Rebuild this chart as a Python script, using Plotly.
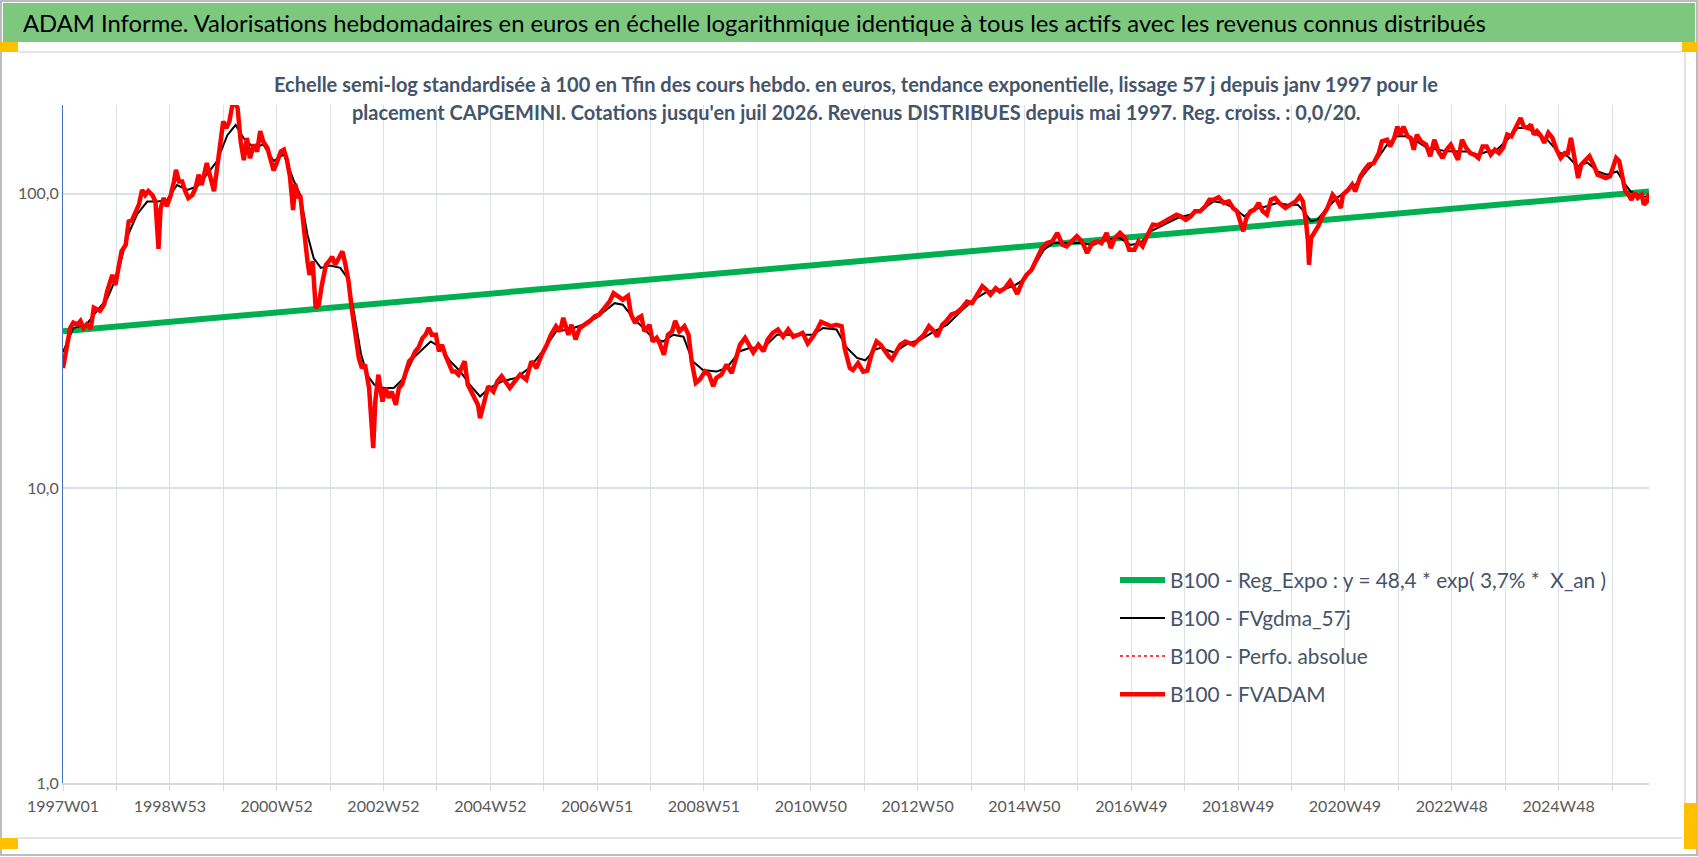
"""CAPGEMINI : valorisations hebdo en base 100, echelle semi-log (ADAM Informe)."""
import plotly.graph_objects as go

W, H = 1698, 857
ML, MR, MT, MB = 63, 49, 105, 74

# semaines depuis 1997W01 / valeurs base 100
red_weeks = [
    0, 4, 7, 10, 14, 17, 20, 23, 27, 30, 33, 36, 40, 43, 48, 51, 54, 57, 61, 64,
    67, 70, 74, 77, 80, 83, 87, 90, 93, 95, 98, 101, 105, 108, 110, 113, 116, 119, 122, 126,
    129, 132, 135, 140, 144, 147, 150, 153, 156, 159, 162, 166, 170, 173, 176, 179, 182, 186, 189, 192,
    195, 199, 202, 205, 208, 212, 215, 218, 221, 224, 226, 229, 231, 234, 238, 240, 243, 246, 249, 252,
    256, 259, 262, 265, 269, 272, 275, 278, 281, 285, 288, 291, 294, 298, 300, 302, 304, 307, 311, 314,
    317, 320, 324, 327, 330, 333, 337, 340, 343, 346, 350, 353, 356, 359, 363, 366, 369, 372, 376, 379,
    382, 385, 391, 394, 399, 404, 406, 410, 414, 419, 423, 427, 430, 435, 440, 445, 451, 456, 461, 466,
    471, 475, 480, 484, 487, 492, 495, 499, 503, 508, 513, 518, 522, 527, 532, 536, 540, 545, 550, 553,
    557, 560, 563, 566, 571, 574, 578, 581, 585, 589, 593, 596, 600, 605, 609, 612, 616, 620, 625, 629,
    633, 636, 641, 646, 651, 655, 659, 664, 667, 672, 677, 682, 686, 691, 696, 701, 706, 711, 716, 720,
    725, 730, 735, 738, 743, 748, 753, 758, 761, 766, 769, 774, 779, 783, 787, 792, 796, 800, 804, 807,
    811, 815, 820, 824, 828, 833, 838, 843, 848, 851, 856, 860, 865, 870, 875, 880, 885, 890, 895, 899,
    903, 908, 912, 917, 922, 926, 929, 934, 938, 943, 948, 953, 958, 963, 968, 973, 977, 982, 987, 992,
    997, 1002, 1007, 1011, 1016, 1020, 1024, 1029, 1034, 1038, 1043, 1047, 1051, 1056, 1061, 1066, 1070, 1075, 1080, 1084,
    1088, 1093, 1098, 1102, 1107, 1112, 1116, 1120, 1125, 1130, 1135, 1139, 1143, 1146, 1149, 1152, 1156, 1160, 1164, 1168,
    1172, 1176, 1180, 1184, 1190, 1195, 1200, 1204, 1207, 1210, 1212, 1213, 1215, 1218, 1222, 1226, 1231, 1236, 1240, 1244,
    1246, 1251, 1255, 1258, 1263, 1267, 1271, 1276, 1281, 1284, 1289, 1292, 1296, 1299, 1302, 1305, 1309, 1312, 1315, 1318,
    1322, 1327, 1331, 1335, 1339, 1343, 1347, 1351, 1355, 1358, 1362, 1366, 1370, 1374, 1378, 1382, 1386, 1390, 1394, 1398,
    1402, 1406, 1410, 1414, 1419, 1422, 1426, 1429, 1432, 1435, 1439, 1442, 1446, 1450, 1454, 1458, 1462, 1465, 1468, 1472,
    1475, 1478, 1481, 1486, 1490, 1494, 1498, 1502, 1506, 1509, 1512, 1515, 1518, 1521, 1524, 1527, 1530, 1533, 1537, 1539,
    1542, 1544,
]
red_values = [
    25.6, 30, 35, 36.5, 36, 37, 35, 36, 34.8, 41, 40.5, 40, 42, 46.6, 53, 49, 56, 63.7, 67, 80.5,
    81, 85, 92, 103, 99, 102, 99, 94, 65, 89, 96.7, 90.6, 99, 110, 120.5, 110, 110, 102, 96.7, 99,
    104.5, 116, 107, 127, 113, 102, 122, 143, 176, 167, 176, 210, 195, 150, 130, 154.6, 132, 147, 139, 163,
    150, 143, 129, 120, 127, 139, 141, 130, 114, 88, 108, 96.7, 99, 76.5, 59, 53, 59, 41, 42, 49,
    57.4, 59, 61, 57.4, 60.5, 63.7, 57.4, 50.4, 41, 33.2, 27.7, 25.6, 26.3, 21.9, 16, 13.7, 19.7, 24.3, 19.7, 21.9,
    20.3, 21.3, 19.2, 21.9, 22.5, 24.3, 27, 27.7, 29.2, 30, 32.4, 33.2, 35, 33.2, 33.2, 29.2, 30.7, 28.4, 26.3, 24.9,
    24.9, 24.3, 27, 22.5, 20.8, 19.2, 17.3, 19.7, 22.2, 21.3, 23.1, 24, 23.1, 21.9, 23.1, 24.3, 23.4, 27, 25.6, 28.4,
    30.7, 33.2, 35.5, 34.1, 37.9, 33.2, 35.9, 32, 35, 35.9, 37, 38.4, 38.9, 40.9, 43, 46, 45, 43.7, 45, 38.9,
    36.4, 37.9, 38.4, 34.1, 35.9, 31.5, 32.4, 31, 28.4, 33.2, 34.1, 37, 34.1, 35.5, 33.2, 27, 22.8, 23.4, 24.9, 24.3,
    22.2, 23.7, 24.3, 26.3, 24.6, 27.7, 30.7, 32.4, 31, 28.9, 30.7, 29.2, 32, 33.7, 34.6, 32.7, 34.6, 32.7, 33.2, 33.7,
    31, 32.7, 35, 36.7, 36.1, 35.5, 35.9, 35.5, 29.9, 25.6, 25.2, 26.6, 24.9, 25.1, 28.4, 31.5, 30.7, 29.2, 28, 27.4,
    29.2, 30.7, 31.5, 31, 30.7, 32, 33.2, 35.5, 34.1, 32.7, 35.9, 37, 38.9, 39.5, 40.9, 43, 42.5, 45.4, 48.5, 47.2,
    45.4, 47.8, 46.6, 47.8, 50.4, 47.8, 45.7, 50.4, 53, 55.2, 60.5, 65.4, 68, 68.9, 73.6, 67.1, 66.3, 68.9, 71.7, 68.9,
    62.9, 68, 68.9, 68, 73.6, 65.4, 70.7, 73.6, 70.7, 64.5, 64.5, 68.9, 66.3, 72.6, 78.5, 78.1, 79.5, 81.6, 82.7, 84.9,
    83.8, 81.6, 83.8, 87.1, 87.1, 90.6, 95.4, 95.4, 97.2, 93, 94.2, 89.4, 87.1, 80.6, 74.5, 82.7, 87.1, 88.3, 93, 87.1,
    84.9, 95.4, 96.7, 93, 89.4, 91.8, 94.2, 98, 94.2, 80.6, 68.9, 57.4, 70.7, 73.6, 77.5, 83.8, 89.4, 99.2, 95.4, 89.4,
    99.2, 103, 107.3, 101.8, 114.5, 120.6, 125.4, 127, 137.4, 150.5, 152.5, 144.7, 154.6, 169, 158.7, 169, 156.6, 154.6, 141, 158.7,
    150.5, 146.7, 134, 152.5, 139.2, 132.2, 141, 146.7, 137.4, 130.4, 152.5, 143, 137.4, 135.6, 132.2, 144.7, 144.7, 135.6, 141, 137.4,
    143, 158.7, 156.6, 167, 180.7, 169, 167, 171.6, 158.7, 162.9, 156.6, 148.7, 160.8, 154.6, 141, 132.2, 137.4, 137.4, 154.6, 129,
    113, 125.4, 129, 134, 125.4, 116, 114.5, 113, 114.5, 123.8, 132.2, 129, 113, 101.8, 99.2, 95.4, 100.5, 96.7, 99.2, 91.8,
    94.2, 100.5,
]

smooth_weeks = [
    0, 10, 23, 33, 43, 53, 62, 72, 82, 92, 101, 111, 121, 131, 140, 150, 160, 168, 176, 186,
    195, 205, 215, 225, 231, 238, 244, 251, 260, 270, 277, 283, 290, 296, 303, 312, 322, 332, 341, 351,
    358, 368, 377, 387, 396, 406, 415, 428, 441, 454, 467, 480, 493, 506, 519, 529, 537, 545, 555, 565,
    574, 584, 594, 604, 613, 623, 636, 646, 659, 669, 682, 695, 708, 721, 730, 740, 753, 763, 773, 781,
    790, 796, 809, 822, 835, 848, 861, 874, 887, 900, 913, 925, 935, 945, 955, 964, 977, 990, 1003, 1016,
    1029, 1039, 1049, 1059, 1072, 1085, 1098, 1111, 1120, 1130, 1140, 1150, 1159, 1172, 1182, 1192, 1202, 1208, 1215, 1221,
    1231, 1240, 1250, 1260, 1270, 1279, 1289, 1299, 1309, 1318, 1328, 1338, 1348, 1357, 1367, 1377, 1387, 1396, 1406, 1416,
    1426, 1435, 1445, 1455, 1465, 1474, 1484, 1494, 1503, 1513, 1520, 1526, 1533, 1539, 1544,
]
smooth_values = [
    29, 35, 36, 40, 44, 53, 70.7, 85, 94, 94, 95, 107, 103, 106, 116, 129, 158, 171, 154, 143,
    147, 129, 136, 110, 99, 72.6, 60.5, 56, 57, 56, 51.7, 40, 28.7, 24.3, 22.5, 21.9, 21.9, 23.7, 27.7, 30,
    31.5, 30, 27, 24.9, 22.5, 20.5, 21.9, 23.1, 23.7, 25.6, 29.2, 34.1, 34.6, 35.9, 37.9, 40.4, 42.5, 42, 37.9, 35,
    32.4, 31.5, 33.2, 32.7, 27, 25.2, 24.9, 25.6, 29.2, 30, 30, 33.2, 33.2, 33.2, 33.2, 35, 34.6, 30, 27.7, 27.2,
    29.5, 30, 28.9, 31, 32, 34.1, 35.9, 39.9, 43.7, 46.6, 47.2, 48.5, 51, 56.6, 64.5, 68, 68, 68, 67, 70,
    70.7, 67, 68, 74.5, 78.5, 82.7, 85, 89.4, 94.2, 93, 89.4, 83.8, 88.3, 90.6, 93, 91.8, 91.8, 87.1, 80.6, 81.6,
    89.4, 96.7, 102, 108.6, 120.6, 130.4, 146.7, 156.6, 156.6, 150.5, 143, 141, 139.2, 139, 139, 135.6, 139, 141, 152.5, 167,
    167, 158.7, 152.5, 139, 134, 123.8, 127.5, 119, 116, 119, 108.6, 101.8, 99.2, 97.7, 98,
]

# droite de regression exponentielle (extremites)
trend_weeks = [0, 1544]
trend_values = [34.1, 101.8]

grid_weeks = list(range(0, 1545, 52))
week_labels = [
    "1997W01", "1998W53", "2000W52", "2002W52", "2004W52", "2006W51", "2008W51", "2010W50",
    "2012W50", "2014W50", "2016W49", "2018W49", "2020W49", "2022W48", "2024W48",
]
tick_text = [week_labels[i // 2] if i % 2 == 0 else "" for i in range(len(grid_weeks))]

FONT = "Lato"
TXT = "#44546A"
GRID = "#DCE1E8"


def px(x, y):
    """pixels de la page -> coordonnees paper"""
    return (x - ML) / (W - ML - MR), (H - MB - y) / (H - MT - MB)


fig = go.Figure()
fig.add_trace(go.Scatter(x=trend_weeks, y=trend_values, mode="lines", legendgroup="a",
                         name="B100 - Reg_Expo : y = 48,4 * exp( 3,7% *  X_an )",
                         line=dict(color="#00B050", width=6)))
fig.add_trace(go.Scatter(x=smooth_weeks, y=smooth_values, mode="lines", legendgroup="b",
                         name="B100 - FVgdma_57j", line=dict(color="#000000", width=2)))
fig.add_trace(go.Scatter(x=red_weeks, y=red_values, mode="lines", legendgroup="c",
                         name="B100 - Perfo. absolue", line=dict(color="#FF0000", width=1.5, dash="dot")))
fig.add_trace(go.Scatter(x=red_weeks, y=red_values, mode="lines", legendgroup="d",
                         name="B100 - FVADAM", line=dict(color="#FF0000", width=4.5)))

shapes = []


def rect(x0, y0, x1, y1, fill=None, line=None, lw=0):
    a0, b0 = px(x0, y0)
    a1, b1 = px(x1, y1)
    shapes.append(dict(type="rect", xref="paper", yref="paper", x0=a0, y0=b0, x1=a1, y1=b1,
                       fillcolor=fill or "rgba(0,0,0,0)", line=dict(color=line or "rgba(0,0,0,0)", width=lw),
                       layer="below"))


rect(1, 1, 1697, 855, line="#A6A6A6", lw=1.5)
rect(3, 3, 1695, 42, fill="#7DC77F")
rect(18, 51, 1682, 53, fill="#E4E4E4")
rect(18, 837, 1682, 839, fill="#E4E4E4")
rect(1684, 52, 1686, 838, fill="#E4E4E4")
rect(0, 42, 18, 52, fill="#FFC000")
rect(1682, 42, 1698, 52, fill="#FFC000")
rect(0, 838, 18, 849, fill="#FFC000")
rect(1684, 803, 1698, 849, fill="#FFC000")

ann = []
tx, ty = px(21, 23)
ann.append(dict(xref="paper", yref="paper", x=tx, y=ty, xanchor="left", yanchor="middle", showarrow=False,
                text="ADAM Informe. Valorisations hebdomadaires en euros en échelle logarithmique identique à tous les actifs avec les revenus connus distribués",
                font=dict(family=FONT, size=23.8, color="#000000")))
sx, sy1 = px(856, 84)
_, sy2 = px(856, 112)
ann.append(dict(xref="paper", yref="paper", x=sx, y=sy1, xanchor="center", yanchor="middle", showarrow=False,
                text="<b>Echelle semi-log standardisée à 100 en Tfin des cours hebdo. en euros, tendance exponentielle, lissage 57 j depuis janv 1997 pour le</b>",
                font=dict(family=FONT, size=20, color=TXT)))
ann.append(dict(xref="paper", yref="paper", x=sx, y=sy2, xanchor="center", yanchor="middle", showarrow=False,
                text="<b>placement CAPGEMINI. Cotations jusqu'en juil 2026. Revenus DISTRIBUES depuis mai 1997. Reg. croiss. : 0,0/20.</b>",
                font=dict(family=FONT, size=20, color=TXT)))

lx, ly = px(1115, 560)
fig.update_layout(
    width=W, height=H, autosize=False,
    margin=dict(l=ML, r=MR, t=MT, b=MB),
    paper_bgcolor="white", plot_bgcolor="white",
    showlegend=True,
    legend=dict(x=lx, y=ly, xanchor="left", yanchor="top", bgcolor="rgba(0,0,0,0)",
                font=dict(family=FONT, size=20.8, color=TXT), itemwidth=45, tracegroupgap=8,
                traceorder="grouped"),
    shapes=shapes, annotations=ann,
    hovermode=False,
)
fig.update_xaxes(range=[0, 1544], tickmode="array", tickvals=grid_weeks, ticktext=tick_text,
                 showgrid=True, gridcolor=GRID, gridwidth=1, zeroline=False,
                 showline=True, linecolor="#D9D9D9", linewidth=1.5,
                 ticks="outside", ticklen=6, tickcolor="#D9D9D9", ticklabelstandoff=2,
                 tickfont=dict(family=FONT, size=16, color="#595959"))
fig.update_yaxes(type="log", range=[0, 2.301], tickmode="array", tickvals=[1, 10, 100],
                 ticktext=["1,0", "10,0", "100,0"], showgrid=True, gridcolor=GRID, gridwidth=1.5,
                 zeroline=False, showline=True, linecolor="#4472C4", linewidth=1,
                 tickfont=dict(family=FONT, size=16, color="#595959"), ticks="")
fig.write_html("out.html", config={"displayModeBar": False},
               post_script="document.body.style.margin='0';document.body.style.overflow='hidden';")
